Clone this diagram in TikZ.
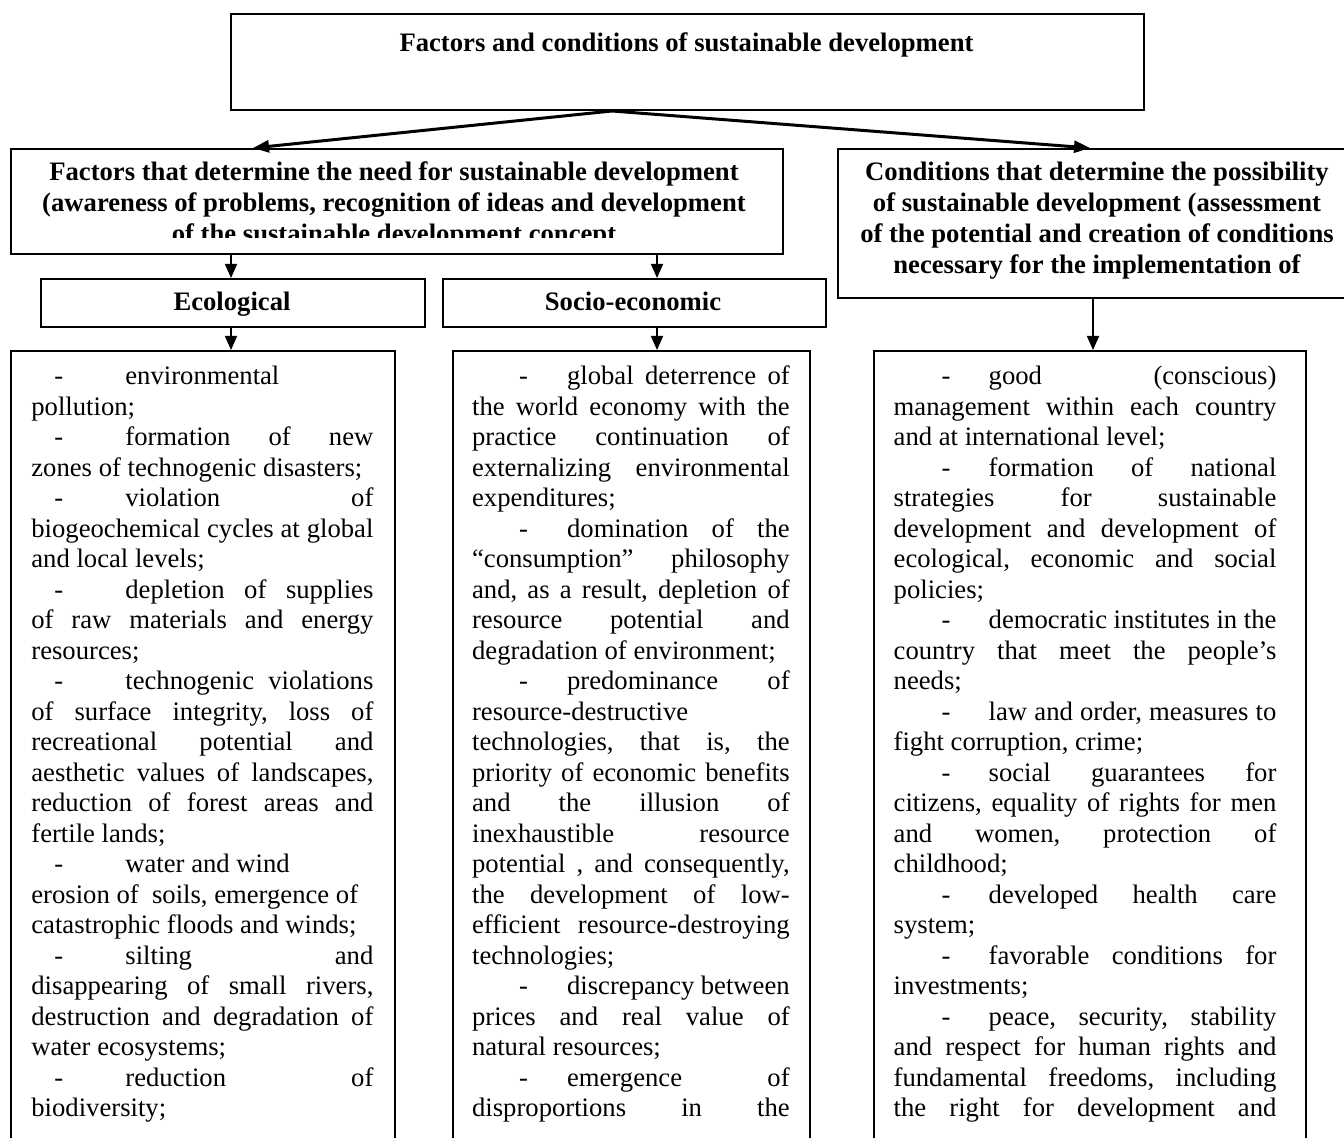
\documentclass[tikz,border=0pt]{standalone}
\usepackage{fontspec}
\setmainfont{Liberation Serif}
\usetikzlibrary{arrows.meta}
\newlength\dpos \newlength\tpos
\newcommand\myJ[1]{\hbox to\hsize{#1}}
\newcommand\myL[1]{\hbox to\hsize{#1\hfil}}
\newcommand\myDJ[1]{\hbox to\hsize{\hbox to\tpos{\kern\dpos-\hfil}#1}}
\newcommand\myDL[1]{\hbox to\hsize{\hbox to\tpos{\kern\dpos-\hfil}#1\hfil}}
\newcommand\myC[1]{\hbox to\hsize{\hfil#1\hfil}}
\begin{document}
\begin{tikzpicture}[x=0.5pt,y=-0.5pt,
 hbox/.style={draw, line width=1pt, rectangle, inner sep=0pt, anchor=north west},
 bbox/.style={draw, line width=0.8pt, rectangle, inner sep=0pt, anchor=north west},
 big/.style={line width=1.5pt, -{Triangle[length=8pt,width=6pt]}},
 small/.style={line width=0.8pt, -{Triangle[length=7pt,width=6pt]}},
 body/.style={anchor=base west, inner sep=0pt, font=\fontsize{13.33pt}{15.25pt}\selectfont},
 head/.style={anchor=base, inner sep=0pt, font=\fontsize{13.33pt}{15.5pt}\selectfont\bfseries}]
\useasboundingbox (0,0) rectangle (1344,1138);
\clip (0,0) rectangle (1344,1138);

% boxes
\node[hbox, minimum width=456.5pt, minimum height=48pt] (top) at (230,13) {};
\node[hbox, minimum width=386pt, minimum height=52.5pt] (lh) at (10,148) {};
\node[hbox, minimum width=261.5pt, minimum height=74.5pt] (rh) at (837,148) {};
\node[hbox, minimum width=192pt, minimum height=24pt] (eco) at (40,278) {};
\node[hbox, minimum width=191.5pt, minimum height=24pt] (soc) at (442,278) {};
\node[bbox, minimum width=192pt, minimum height=400pt] (b1) at (10,350) {};
\node[bbox, minimum width=178.5pt, minimum height=400pt] (b2) at (452,350) {};
\node[bbox, minimum width=216pt, minimum height=400pt] (b3) at (873,350) {};

% header texts
\node[head] (tt) at (686.5,52) {Factors and conditions of sustainable development};
\begin{scope}
\clip (10,148) rectangle (782,237.5);
\node[head] (lht) at (394,181) {\vtop{\hsize=390pt
 \myC{Factors that determine the need for sustainable development}
 \myC{(awareness of problems, recognition of ideas and development}
 \myC{of the sustainable development concept}}};
\end{scope}
\node[head] (rht) at (1097,181) {\vtop{\hsize=260pt
 \myC{Conditions that determine the possibility}
 \myC{of sustainable development (assessment}
 \myC{of the potential and creation of conditions}
 \myC{necessary for the implementation of}}};
\node[head] (ect) at (232,311) {Ecological};
\node[head] (sct) at (633,311) {Socio-economic};

% arrows
\coordinate (apex) at (612,110);
\coordinate (tipL) at (253,0);
\coordinate (tipR) at (1090,0);
\coordinate (c1) at (231,0);
\coordinate (c2) at (657,0);
\coordinate (c3) at (1093,0);
\draw[big] (top.south -| apex) -- (lh.north -| tipL);
\draw[big] (top.south -| apex) -- (rh.north -| tipR);
\draw[small] (lh.south -| c1) -- (eco.north -| c1);
\draw[small] (lh.south -| c2) -- (soc.north -| c2);
\draw[small] (eco.south -| c1) -- (b1.north -| c1);
\draw[small] (soc.south -| c2) -- (b2.north -| c2);
\draw[small] (rh.south -| c3) -- (b3.north -| c3);

% body texts
\node[body] (t1) at (31,385) {\vtop{\hsize=171pt \dpos=11.5pt \tpos=47pt \frenchspacing
\myDL{environmental}
\myL{pollution;}
\myDJ{formation of new}
\myL{zones of technogenic disasters;}
\myDJ{violation of}
\myJ{biogeochemical cycles at global}
\myL{and local levels;}
\myDJ{depletion of supplies}
\myJ{of raw materials and energy}
\myL{resources;}
\myDJ{technogenic violations}
\myJ{of surface integrity, loss of}
\myJ{recreational potential and}
\myJ{aesthetic values of landscapes,}
\myJ{reduction of forest areas and}
\myL{fertile lands;}
\myDL{water and wind}
\myL{erosion of\ \ soils, emergence of}
\myL{catastrophic floods and winds;}
\myDJ{silting and}
\myJ{disappearing of small rivers,}
\myJ{destruction and degradation of}
\myL{water ecosystems;}
\myDJ{reduction of}
\myL{biodiversity;}}};

\node[body] (t2) at (471.7,385) {\vtop{\hsize=158.8pt \dpos=23.5pt \tpos=47.5pt \frenchspacing
\myDJ{global deterrence of}
\myJ{the world economy with the}
\myJ{practice continuation of}
\myJ{externalizing environmental}
\myL{expenditures;}
\myDJ{domination of the}
\myJ{“consumption” philosophy}
\myJ{and, as a result, depletion of}
\myJ{resource potential and}
\myL{degradation of environment;}
\myDJ{predominance of}
\myL{resource-destructive}
\myJ{technologies, that is, the}
\myJ{priority of economic benefits}
\myJ{and the illusion of}
\myJ{inexhaustible resource}
\myJ{potential , and consequently,}
\myJ{the development of low-}
\myJ{efficient resource-destroying}
\myL{technologies;}
\myDJ{discrepancy between}
\myJ{prices and real value of}
\myL{natural resources;}
\myDJ{emergence of}
\myJ{disproportions in the}}};

\node[body] (t3) at (893.3,385) {\vtop{\hsize=191.35pt \dpos=24pt \tpos=47.5pt \frenchspacing
\myDJ{good (conscious)}
\myJ{management within each country}
\myL{and at international level;}
\myDJ{formation of national}
\myJ{strategies for sustainable}
\myJ{development and development of}
\myJ{ecological, economic and social}
\myL{policies;}
\myDJ{democratic institutes in the}
\myJ{country that meet the people’s}
\myL{needs;}
\myDJ{law and order, measures to}
\myL{fight corruption, crime;}
\myDJ{social guarantees for}
\myJ{citizens, equality of rights for men}
\myJ{and women, protection of}
\myL{childhood;}
\myDJ{developed health care}
\myL{system;}
\myDJ{favorable conditions for}
\myL{investments;}
\myDJ{peace, security, stability}
\myJ{and respect for human rights and}
\myJ{fundamental freedoms, including}
\myJ{the right for development and}}};
\end{tikzpicture}
\end{document}
